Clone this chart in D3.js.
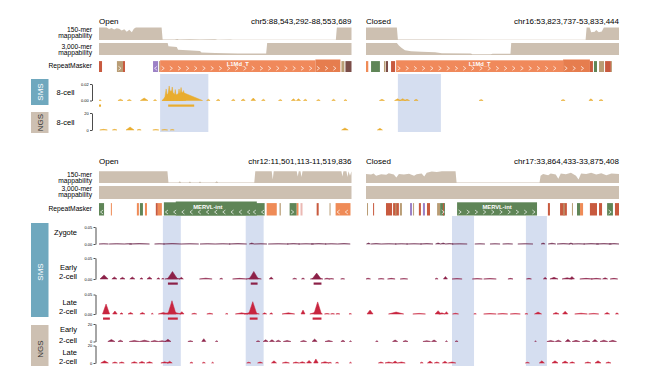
<!DOCTYPE html>
<html>
<head>
<meta charset="utf-8">
<script src="https://cdn.jsdelivr.net/npm/d3@7"></script>
<style>
  body { margin: 0; background: #fff; }
  svg text { font-family: "Liberation Sans", Arial, Helvetica, sans-serif; }
</style>
</head>
<body>
<script>
// all positions are in % of the genome window (0 = left edge, 100 = right edge)
const regions = ["chr5:88,543,292-88,553,689", "chr16:53,823,737-53,833,444",
                 "chr12:11,501,113-11,519,836", "chr17:33,864,433-33,875,408"];
const states = ["Open", "Closed", "Open", "Closed"];
const assays = ["SMS", "NGS"];
const stagesTop = [["8-cell"], ["8-cell"]];
const stagesBottom = [["Zygote"], ["Early", "2-cell"], ["Late", "2-cell"], ["Early", "2-cell"], ["Late", "2-cell"]];

// mappability [pos, score]
const map150_chr5 = [[0,0.97],[3,0.97],[4,0.84],[5,0.93],[6,0.8],[7,0.9],[8,0.87],[9,0.74],[10,0.82],[11,0.63],[12,0.78],[13,0.6],[13.8,0.86],[14.6,0.96],[24.8,0.96],[25.2,0.04],[30,0.03],[31,0.08],[31.6,0.03],[36,0.05],[40,0.03],[46,0.06],[47,0.02],[52,0.04],[53,0.02],[93.8,0.02],[94.2,0.97],[100,0.97]];
const map3000_chr5 = [[0,1],[27.2,1],[27.5,0.72],[30.8,0.66],[31.3,0.44],[35,0.4],[40,0.34],[40.6,0.2],[46,0.17],[55,0.13],[66.2,0.12],[66.6,1],[100,1]];
const map150_chr16 = [[0,0.97],[12.2,0.97],[12.6,0.03],[30,0.04],[50,0.02],[86.8,0.02],[87.2,0.97],[88.4,0.97],[89,0.6],[90.4,0.63],[91,0.76],[92,0.6],[93.2,0.66],[94,0.97],[100,0.97]];
const map3000_chr16 = [[0,1],[12.2,1],[13,0.8],[14,0.6],[15.4,0.4],[17.8,0.32],[22,0.28],[27.3,0.22],[30,0.15],[41.5,0.13],[42,0.07],[49.4,0.06],[50,0.1],[57.1,0.1],[57.4,1],[100,1]];
const map150_chr12 = [[0,0.97],[27.1,0.97],[27.5,0.05],[31.5,0.05],[32,0.15],[32.5,0.05],[35.5,0.05],[36,0.12],[36.5,0.05],[39.5,0.05],[40,0.12],[40.5,0.05],[46,0.05],[46.6,0.15],[47.2,0.05],[61.5,0.05],[61.9,0.97],[68.4,0.97],[68.8,0.3],[69.2,0.97],[78.3,0.97],[78.7,0.55],[79.1,0.97],[79.8,0.97],[80.2,0.5],[80.6,0.97],[96,0.97],[96.4,0.55],[96.8,0.97],[98,0.97],[98.4,0.5],[98.8,0.97],[99.4,0.6],[100,0.97]];
const map3000_chr12 = [[0,1],[100,1]];
const map150_chr17 = [[0,0.75],[2,0.7],[3,0.8],[4,0.6],[6,0.72],[8,0.68],[9,0.82],[11,0.7],[12,0.45],[13,0.75],[15,0.7],[17,0.78],[19,0.6],[20,0.72],[22,0.8],[23,0.55],[24,0.85],[26,0.95],[28,0.92],[30,0.97],[35.4,0.97],[35.8,0.04],[68.6,0.04],[69,0.6],[70,0.75],[72,0.65],[73,0.8],[75,0.7],[76,0.35],[77,0.8],[79,0.72],[81,0.85],[83,0.6],[84,0.3],[85,0.8],[87,0.75],[89,0.85],[91,0.7],[93,0.82],[95,0.65],[97,0.8],[100,0.75]];
const map3000_chr17 = [[0,1],[100,1]];

// RepeatMasker [start, end, family, strand, name]
const rep_chr5 = [[0,1.2,"SINE",""],[7.1,9.5,"Simple","+"],[9.5,10.3,"SINE",""],[21.4,23.4,"DNA","-"],[23.8,24.2,"Simple",""],
  [24.2,85.7,"L1","+","L1Md_T"],[85.7,95.6,"L1b","+"],[96,97.2,"Simple",""],[97.6,100,"LTR",""]];
const rep_chr16 = [[0,0.9,"MaLR","-"],[2,5.5,"ERVL",""],[7.1,7.7,"Simple",""],[7.9,8.7,"LTR",""],[9.9,11.5,"SINE","-"],
  [11.9,77.9,"L1","+","L1Md_T"],[77.9,88.5,"L1b","+"],[88.5,89.7,"SINE",""],[90.1,91.3,"ERVL",""],[92.1,94.1,"Simple",""],
  [94.5,96.8,"SINE",""],[96.8,97.2,"Simple",""]];
const rep_chr12 = [[0,2,"ERVL","-"],[4.7,5.1,"MaLR",""],[15,15.8,"MaLR",""],[16.2,17.4,"ERVL","+"],[18.2,19,"MaLR",""],
  [22.5,23.3,"SINE",""],[23.3,24.9,"MaLR","-"],[25.7,60.5,"ERVL","-","MERVL-int"],[60.5,65.6,"ERVL","-"],[30.4,62.5,"ERVLb",""],
  [66.4,70.4,"MaLR",""],[71.5,72,"Simple",""],[75.5,78.3,"ERVL","+"],[78.3,79,"MaLR",""],[79.8,80.6,"Low",""],
  [86.2,87,"SINE",""],[91.3,91.7,"Simple",""],[93.7,99.6,"MaLR","-"]];
const rep_chr17 = [[0.4,0.8,"Simple",""],[2.8,3.2,"SINE",""],[7.9,10.3,"SINE",""],[10.7,13,"SINE",""],[11.6,12,"Simple",""],
  [13.4,14.2,"Simple",""],[17.4,18.2,"DNA",""],[18.6,19,"Simple",""],[20.9,21.7,"SINE",""],[22.5,23.3,"DNA",""],
  [24.1,25.3,"SINE",""],[28.1,29.3,"Simple",""],[29.3,31.2,"ERVL","+"],[30.4,30.8,"SINE",""],[36,67.6,"ERVL","+","MERVL-int"],
  [71.9,72.7,"SINE",""],[76.7,79.4,"SINE",""],[78,78.5,"Simple",""],[81.4,81.8,"Simple",""],[83.4,84.6,"ERVL","+"],
  [84.6,85.8,"MaLR",""],[88.5,91.3,"SINE",""],[92.1,93.3,"SINE",""],[95.3,97.6,"ERVL","+"],[98.4,100,"SINE",""]];

// signal peaks [center, value, half width]
const sms8cell_chr5 = [[0.4,0.001,0.5],[8.5,0.0015,1],[12,0.0012,0.8],[17.9,0.003,1.5],[22.2,0.0012,0.6],
  [28.5,0.012,3.5],[33,0.01,8],[26.6,0.014,0.7],[27.8,0.0176,0.8],[29,0.0164,0.7],[30.2,0.0133,0.6],[31.7,0.0139,0.7],
  [32.5,0.0158,0.8],[33.5,0.012,0.8],[43.3,0.0015,0.7],[47.2,0.0015,0.7],[53.2,0.0015,0.7],[57.1,0.0018,0.8],
  [61.1,0.003,0.9],[65.1,0.0015,0.7],[71.8,0.0012,0.7],[77,0.002,0.8],[79,0.002,0.8],[81.7,0.0015,0.7],
  [86.9,0.0012,0.7],[92.9,0.0015,0.7],[97.6,0.0012,0.6]];
const ngs8cell_chr5 = [[1.8,0.8,1.5],[6.2,0.8,0.9],[12.3,3.5,1.6],[15.9,0.8,0.8],[22.5,0.6,1.2],[26,0.6,1.2],[29,0.6,0.8],[97.4,2.4,1.3]];
const sms8cell_chr16 = [[6.3,0.0015,1],[12.5,0.002,1.2],[14.5,0.0022,1.2],[16.2,0.0015,1],[19.8,0.0015,0.8],[45.5,0.0012,0.8],
  [77.9,0.0012,0.8],[88.9,0.002,0.8],[92.9,0.0012,0.8]];
const ngs8cell_chr16 = [[5.5,2,1]];

const smsZygote_chr12 = [[1.8,0.001,2],[7,0.001,3],[11.5,0.001,1.5],[16,0.0012,4],[24,0.001,2],[29,0.0015,3.5],[36,0.001,3.5],
  [43,0.001,3],[49,0.001,3],[55,0.0012,3.5],[60.5,0.003,1],[64,0.001,2.5],[71,0.001,4],[77,0.0012,2.5],[82,0.001,3],
  [87,0.0012,3],[92,0.001,2.5],[97,0.0012,2.5]];
const smsEarly_chr12 = [[2,0.0098,1.6],[6.1,0.005,1],[9.3,0.004,1],[13.2,0.005,1],[16.8,0.003,0.6],[20,0.005,1],[23.5,0.003,0.6],
  [25.3,0.0015,0.5],[29.1,0.004,3],[29.1,0.0178,2],[32.6,0.004,0.8],[42.3,0.002,2.5],[48.4,0.002,0.6],[55.7,0.0015,2.8],
  [61.3,0.004,3],[61.3,0.018,1.8],[68.2,0.0045,0.8],[77.5,0.002,0.8],[80.8,0.0025,0.6],[86.2,0.003,2.5],[86.2,0.014,1.8],
  [90.3,0.002,1],[92,0.001,1],[96.5,0.001,0.8]];
const smsLate_chr12 = [[2.8,0.0256,1.4],[6.3,0.0077,0.9],[8.9,0.003,0.6],[12.5,0.004,1],[17.2,0.004,1],[21.1,0.002,0.4],
  [25.5,0.004,2],[29,0.006,3.5],[28.9,0.034,1.6],[32.8,0.006,0.9],[37.7,0.002,1],[43.9,0.002,1.2],[50.6,0.0015,0.5],
  [56.5,0.003,2.5],[60.5,0.005,3],[60.9,0.0315,1.6],[65.6,0.003,0.8],[68.2,0.003,0.6],[75,0.003,2.5],[80.8,0.01,0.8],
  [86,0.005,2.5],[86.6,0.031,1.5],[90.3,0.0015,1],[92.5,0.0012,0.8],[94.6,0.0012,0.8],[99.5,0.0012,0.5]];
const ngsEarly_chr12 = [[4.9,2.3,1.4],[8.5,1.5,1],[14,1.2,2],[18,1.5,2],[22,1.2,1.5],[25,1,1.5],[27.3,2.5,1.2],[36.2,1,1],
  [41.5,3.2,0.8],[46.6,1,0.5],[63,1,0.7],[66,2,1],[68.5,2,1],[71,1.5,1],[74.5,1.2,1.5],[81,1.2,1.2],[85.4,2.8,1],
  [91,1.2,1.5],[96.6,1.5,0.8],[99.6,1,0.4]];
const ngsLate_chr12 = [[2.2,2.5,1.5],[6.3,1.2,1],[9,1.2,1],[14,1.5,1.2],[17,1.8,1.2],[20,1.5,1.2],[26,1.3,1.5],[28,2,1],
  [36.6,1,0.6],[41.5,1,0.6],[45,1,0.4],[59.3,1,0.8],[63.8,1.2,1],[69.3,2.5,1],[74,1.2,1.4],[78,1.2,1.2],[80.5,1.5,1.2],
  [83.2,3,1],[85.9,4.6,0.9],[89.5,1.5,1.6],[91.5,1,0.6],[94.3,1,0.6],[99.6,1,0.4]];

const smsZygote_chr17 = [[1,0.003,0.8],[4,0.0012,2],[9,0.001,3],[14,0.001,2.5],[19,0.001,3],[24,0.0012,2.5],[28.5,0.003,1],
  [30.5,0.003,1],[33,0.0015,1.5],[37,0.0006,3],[45,0.0008,2],[51,0.0008,2],[56,0.001,2],[63,0.001,3],[70,0.003,0.8],
  [73.5,0.0025,1.5],[78,0.0015,2.5],[81,0.003,0.8],[84,0.001,2.5],[89,0.0012,3],[94,0.0012,3],[98,0.0012,2]];
const smsEarly_chr17 = [[0.8,0.002,1],[6,0.001,1.2],[10,0.0015,1.5],[15,0.001,1.5],[27.9,0.002,0.6],[31.4,0.006,0.8],
  [36,0.001,2],[44,0.001,2],[49,0.0012,2.5],[57.1,0.0015,1],[64.4,0.0015,1],[70.8,0.004,0.7],[74.3,0.004,1.6],
  [79.5,0.003,2],[81.4,0.006,1],[87,0.0015,2.5],[91,0.0015,2],[94.5,0.003,1],[98,0.0015,1.5]];
const smsLate_chr17 = [[1.6,0.01,1.2],[11.9,0.005,3],[21,0.0015,2.5],[28.5,0.0085,1.2],[30,0.003,1.2],[31.8,0.006,0.7],
  [35.4,0.002,1.2],[43.1,0.0012,0.5],[49,0.0012,2.5],[54,0.0012,2],[59,0.0012,2],[63.4,0.0012,0.6],[68,0.005,1.4],
  [75.1,0.004,1.2],[78.7,0.007,1],[85,0.002,2.5],[90,0.0015,2],[95.3,0.004,1],[99.2,0.003,0.6]];
const ngsEarly_chr17 = [[4.3,1,0.5],[11.5,1.7,1],[15.6,1.2,1],[24,1,1.5],[26.9,1.7,1],[31.8,1,0.4],[35.8,1,0.6],[67,1,0.3],
  [73,1.2,1.5],[76,1.5,1.2],[79.8,2.5,1],[83,1.3,1.5],[87,1.2,1.5],[90.5,2.2,1],[94,1.5,1.5],[97.5,1.3,1.5]];
const ngsLate_chr17 = [[5.9,1.2,1],[9,1.2,1.5],[11.5,2.2,1],[14,1.2,1.5],[22,1,0.6],[25.3,2.2,1],[28,1.2,1],[31.2,2,1],
  [34,1.2,1.5],[63.8,1,0.8],[69.5,2.5,1],[74.7,2.5,1.2],[78.7,2.2,1.2],[81.5,1.3,1],[87.7,1.2,1.2],[91.7,2.5,1.2],[95.8,1.2,1]];

// called peaks [start, end]
const bars8cell_chr5 = [[0, 0.8], [27.4, 37.7]];
const barsEarly_chr12 = [[27.3, 31.2], [60.1, 62.8], [85, 88.1]];
const barsLate_chr12 = [[1.6, 4.3], [27.3, 31.2], [59.7, 62.8], [84.6, 88.1]];

// highlighted windows [start, end]
const hl_chr5 = [[24.2, 43.3]];
const hl_chr16 = [[12.6, 29.6]];
const hl_chr12 = [[25.3, 32.4], [58.1, 65.2]];
const hl_chr17 = [[34, 42.7], [63.2, 71.5]];

// ---------- styles / layout ----------
const famColor = {L1: "#f0895b", L1b: "#e67d4e", ERVL: "#5f8557", ERVLb: "#5f8557", SINE: "#c85a3f",
  LTR: "#7b4d48", Simple: "#b99d75", DNA: "#9c81c6", MaLR: "#ef8b57", Low: "#ebb9b4"};
const mapColor = "#cdc0b1";
const hlColor = "#d5def0";
const cols = [[99, 351.5], [366, 619]];

const svg = d3.select("body").append("svg")
    .attr("width", 656)
    .attr("height", 382)

const topLayout = {header: 24, m150: [27, 40], m3000: [43, 55], rep: [59.5, 72], labY: 65.8, chevY: 68.3,
  hl: [74, 132], axisX: 92, nameX: 74.5,
  maplab: [["150-mer", 31.6], ["mappability", 37.8], ["3,000-mer", 48.6], ["mappability", 54.8], ["RepeatMasker", 68]],
  side: [[79, 105, 92], [112, 133, 122.5]],
  rows: [
    {assay: 0, base: 100.5, top: 84, max: 0.02, color: "#e9ad2f", barY: 104.5, ly: [94.5]},
    {assay: 1, base: 130, top: 113, max: 20, color: "#e9ad2f", ly: [124.5]}
  ]};
const botLayout = {header: 164, m150: [171, 183], m3000: [186, 199], rep: [201.5, 215.5], labY: 208.8, chevY: 212,
  hl: [216, 366], axisX: 95.5, nameX: 77,
  maplab: [["150-mer", 176.6], ["mappability", 182.8], ["3,000-mer", 191], ["mappability", 197.2], ["RepeatMasker", 211]],
  side: [[223, 317, 272], [325, 366, 349]],
  rows: [
    {assay: 0, base: 244, top: 227, max: 0.05, color: "#6f2b4e", ly: [234.5]},
    {assay: 0, base: 279, top: 258, max: 0.05, color: "#8c2148", barY: 282.5, ly: [270, 279]},
    {assay: 0, base: 314, top: 294.5, max: 0.05, color: "#c8253f", barY: 317.5, ly: [304.5, 313.5]},
    {assay: 1, base: 341.5, top: 324, max: 20, color: "#8c2148", ly: [332, 342.5]},
    {assay: 1, base: 363, top: 345.5, max: 20, color: "#c8253f", ly: [355, 364]}
  ]};

const panels = [
  {L: topLayout, col: 0, i: 0, m150: map150_chr5, m3000: map3000_chr5, rep: rep_chr5, hl: hl_chr5,
   tracks: [sms8cell_chr5, ngs8cell_chr5], bars: [bars8cell_chr5, []]},
  {L: topLayout, col: 1, i: 1, m150: map150_chr16, m3000: map3000_chr16, rep: rep_chr16, hl: hl_chr16,
   tracks: [sms8cell_chr16, ngs8cell_chr16], bars: [[], []]},
  {L: botLayout, col: 0, i: 2, m150: map150_chr12, m3000: map3000_chr12, rep: rep_chr12, hl: hl_chr12,
   tracks: [smsZygote_chr12, smsEarly_chr12, smsLate_chr12, ngsEarly_chr12, ngsLate_chr12], bars: [[], barsEarly_chr12, barsLate_chr12, [], []]},
  {L: botLayout, col: 1, i: 3, m150: map150_chr17, m3000: map3000_chr17, rep: rep_chr17, hl: hl_chr17,
   tracks: [smsZygote_chr17, smsEarly_chr17, smsLate_chr17, ngsEarly_chr17, ngsLate_chr17], bars: [[], [], [], [], []]}
];

// ---------- drawing ----------
function drawMap(g, x, data, yr) {
  const y = d3.scaleLinear().domain([0, 1]).range([yr[1], yr[0]]);
  const area = d3.area().x(d => x(d[0])).y0(yr[1]).y1(d => y(d[1]));
  g.append("path").datum(data).attr("d", area).attr("fill", mapColor);
}

// strand arrow inside a repeat block
function chevron(g, cx, cy, dir) {
  const s = dir === "+" ? 1 : -1;
  g.append("path")
    .attr("d", `M${cx - 1.3 * s},${cy - 2}L${cx + 1.3 * s},${cy}L${cx - 1.3 * s},${cy + 2}`)
    .attr("fill", "none").attr("stroke", "#fff").attr("stroke-width", 0.75).attr("opacity", 0.9);
}

function drawRepeats(g, x, reps, L) {
  const [t, b] = L.rep;
  reps.forEach(r => {
    const f = r[2];
    const top = (f === "L1b" || f === "ERVLb") ? t : (f === "L1" || (f === "ERVL" && r[4])) ? t + 0.8 : t + 1.6;
    g.append("rect").attr("x", x(r[0])).attr("width", Math.max(0.6, x(r[1]) - x(r[0])))
      .attr("y", top).attr("height", b - top).attr("fill", famColor[f]);
  });
  reps.forEach(r => {
    if (!r[3]) return;
    const x0 = x(r[0]), x1 = x(r[1]);
    if (x1 - x0 < 3) return;
    for (let cx = x0 + 2.8; cx <= x1 - 1.5; cx += 8.2) chevron(g, cx, L.chevY, r[3]);
  });
  reps.filter(r => r[4]).forEach(r => {
    g.append("text").attr("x", (x(r[0]) + x(r[1])) / 2).attr("y", L.labY)
      .attr("text-anchor", "middle").attr("font-size", 5.8).attr("font-weight", "bold")
      .attr("fill", "#fff").text(r[4]);
  });
}

function drawSignal(g, x, peaks, row) {
  const y = d3.scaleLinear().domain([0, row.max]).range([row.base, row.top]);
  const area = d3.area().x(d => x(d[0])).y0(row.base).y1(d => y(d[1]));
  g.selectAll(null).data(peaks).join("path")
    .attr("d", p => area([[p[0] - p[2], 0], [p[0], p[1]], [p[0] + p[2], 0]]))
    .attr("fill", row.color).attr("stroke", row.color).attr("stroke-width", 0.5);
  return y;
}

panels.forEach(p => {
  const L = p.L;
  const x = d3.scaleLinear().domain([0, 100]).range(cols[p.col]).clamp(true);
  const g = svg.append("g");

  // highlights behind everything
  g.selectAll(null).data(p.hl).join("rect")
    .attr("x", d => x(d[0])).attr("width", d => x(d[1]) - x(d[0]))
    .attr("y", L.hl[0]).attr("height", L.hl[1] - L.hl[0]).attr("fill", hlColor);

  g.append("text").attr("x", cols[p.col][0]).attr("y", L.header).attr("font-size", 8).text(states[p.i]);
  g.append("text").attr("x", cols[p.col][1]).attr("y", L.header).attr("font-size", 8)
    .attr("text-anchor", "end").text(regions[p.i]);

  drawMap(g, x, p.m150, L.m150);
  drawMap(g, x, p.m3000, L.m3000);
  drawRepeats(g, x, p.rep, L);

  L.rows.forEach((row, k) => {
    drawSignal(g, x, p.tracks[k], row);
    g.selectAll(null).data(p.bars[k]).join("rect")
      .attr("x", d => x(d[0])).attr("width", d => x(d[1]) - x(d[0]))
      .attr("y", row.barY).attr("height", 2.2).attr("fill", row.color);
  });
});

// left side: track names, axes, assay boxes
[topLayout, botLayout].forEach((L, s) => {
  const g = svg.append("g").attr("font-size", 6.7);
  L.maplab.forEach(m => g.append("text").attr("x", 92).attr("y", m[1]).attr("text-anchor", "end").text(m[0]));

  L.side.forEach((sd, a) => {
    g.append("rect").attr("x", 31).attr("y", sd[0]).attr("width", 17.5).attr("height", sd[1] - sd[0])
      .attr("fill", a === 0 ? "#6fa8be" : "#cdc0b2");
    g.append("text").attr("transform", `translate(42.5,${sd[2]}) rotate(-90)`)
      .attr("text-anchor", "middle").attr("font-size", 8)
      .attr("fill", a === 0 ? "#fff" : "#333").text(assays[a]);
  });

  const names = s === 0 ? stagesTop : stagesBottom;
  L.rows.forEach((row, k) => {
    names[k].forEach((t, j) => g.append("text").attr("x", L.nameX).attr("y", row.ly[j])
      .attr("text-anchor", "end").attr("font-size", 7.5).text(t));
    const y = d3.scaleLinear().domain([0, row.max]).range([row.base, row.top]);
    const axis = d3.axisLeft(y).tickValues([0, row.max]).tickSize(2).tickSizeOuter(0).tickPadding(1.2)
      .tickFormat(row.assay === 0 ? d3.format(".2f") : d3.format("d"));
    const ag = g.append("g").attr("transform", `translate(${L.axisX},0)`).call(axis)
      .attr("font-size", 4).attr("font-family", "Liberation Sans, Arial, sans-serif");
    ag.select(".domain").attr("stroke-width", 0.7);
    ag.selectAll(".tick line").attr("stroke-width", 0.7);
  });
});
</script>
</body>
</html>
